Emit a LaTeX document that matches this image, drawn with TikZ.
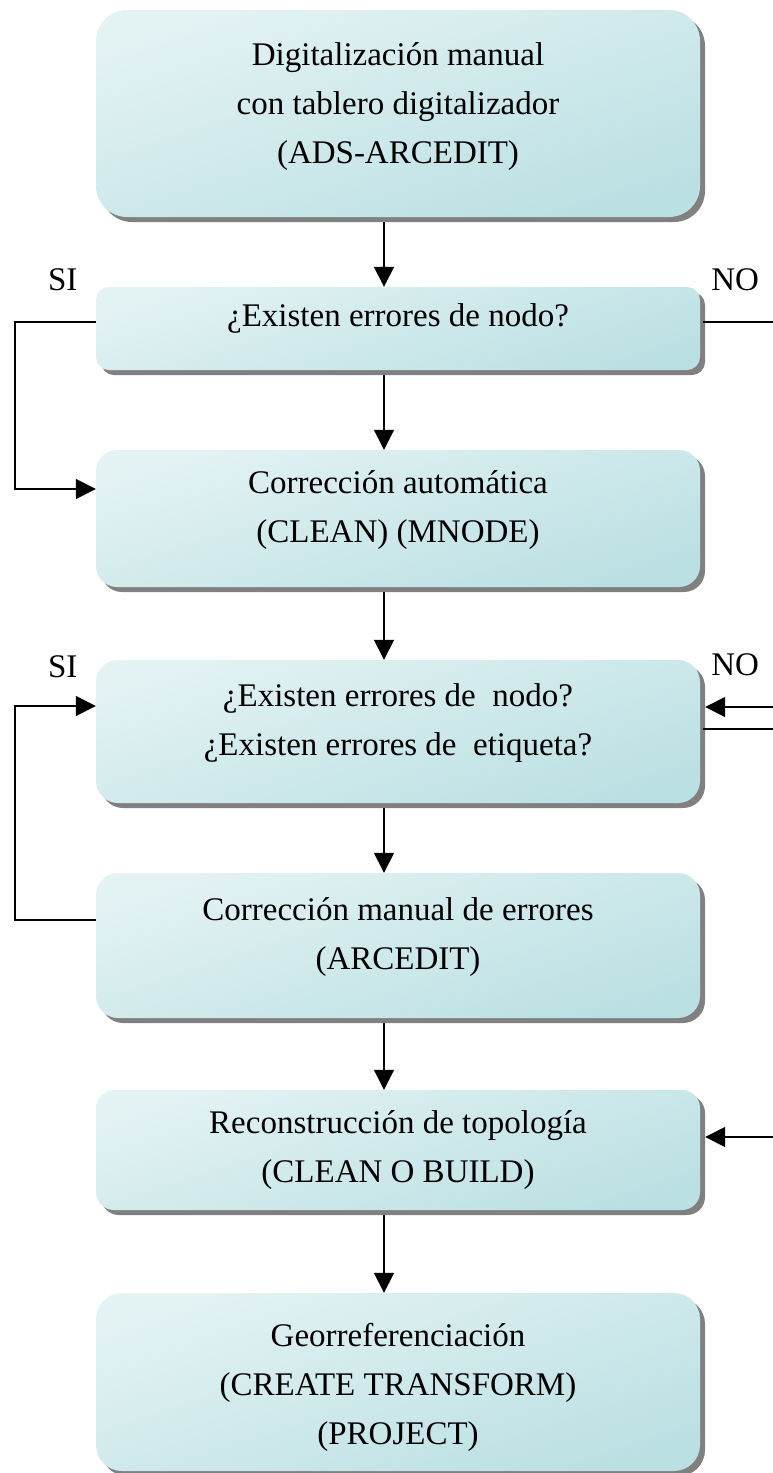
\documentclass[tikz,border=0pt]{standalone}
\usepackage{fontspec}
\setmainfont{Liberation Serif}
\usetikzlibrary{calc,shadows,arrows.meta}

\definecolor{boxlight}{RGB}{227,242,243}
\definecolor{boxdark}{RGB}{187,224,227}
\definecolor{shadowgray}{RGB}{128,128,128}

\tikzset{
  stepbox/.style={rectangle, minimum width=604pt, inner sep=0pt,
    top color=boxlight, bottom color=boxdark, shading angle=18,
    drop shadow={shadow xshift=5pt, shadow yshift=-5pt, fill=shadowgray, opacity=1}},
  boxtext/.style={align=center, font=\fontsize{33}{49}\selectfont},
  answer/.style={font=\fontsize{33}{40}\selectfont},
  flow/.style={-{Triangle[length=20pt,width=20pt]}, line width=1.5pt},
  link/.style={line width=1.5pt}
}

\begin{document}
\begin{tikzpicture}[x=1pt,y=1pt]
\useasboundingbox (0,0) rectangle (773,-1473);
\coordinate (axis) at (384,0);
\coordinate (rightedge) at (773,0);

% boxes
\draw node [stepbox, minimum height=207pt, rounded corners=31pt] (digit) at (398,-113.5) {};
\draw node [boxtext] at ($ (digit) + (0,7) $) {Digitalización manual\\con tablero digitalizador\\(ADS-ARCEDIT)};

\draw node [stepbox, minimum height=83pt, rounded corners=13pt] (nodeq) at (398,-328.5) {};
\draw node [boxtext] at ($ (nodeq) + (0,10) $) {¿Existen errores de nodo?};

\draw node [stepbox, minimum height=137pt, rounded corners=21pt] (autofix) at (398,-518.5) {};
\draw node [boxtext] at ($ (autofix) + (0,8) $) {Corrección automática\\(CLEAN) (MNODE)};

\draw node [stepbox, minimum height=143pt, rounded corners=22pt] (errq) at (398,-731.5) {};
\draw node [boxtext] at ($ (errq) + (0,8) $) {¿Existen errores de \ nodo?\\¿Existen errores de \ etiqueta?};

\draw node [stepbox, minimum height=145pt, rounded corners=22pt] (manfix) at (398,-945.5) {};
\draw node [boxtext] at ($ (manfix) + (0,8) $) {Corrección manual de errores\\(ARCEDIT)};

\draw node [stepbox, minimum height=120pt, rounded corners=18pt] (rebuild) at (398,-1150) {};
\draw node [boxtext] at ($ (rebuild) + (0,0) $) {Reconstrucción de topología\\(CLEAN O BUILD)};

\draw node [stepbox, minimum height=178pt, rounded corners=26pt] (georef) at (398,-1382) {};
\draw node [boxtext] at ($ (georef) + (0,-5) $) {Georreferenciación\\(CREATE TRANSFORM)\\(PROJECT)};

% main flow
\draw[flow, shorten <=5pt] (digit.south -| axis) -- (nodeq.north -| axis);
\draw[flow, shorten <=5pt] (nodeq.south -| axis) -- (autofix.north -| axis);
\draw[flow, shorten <=5pt] (autofix.south -| axis) -- (errq.north -| axis);
\draw[flow, shorten <=5pt] (errq.south -| axis) -- (manfix.north -| axis);
\draw[flow, shorten <=5pt] (manfix.south -| axis) -- (rebuild.north -| axis);
\draw[flow, shorten <=5pt] (rebuild.south -| axis) -- (georef.north -| axis);

% SI branches
\draw[flow] ($ (nodeq.west) + (0,6.5) $) -- ($ (nodeq.west) + (-81,6.5) $) |- ($ (autofix.west) + (0,29.5) $);
\draw node [answer] at ($ (nodeq.west) + (-33,48.5) $) {SI};

\draw[flow] ($ (manfix.west) + (0,25.5) $) -- ($ (manfix.west) + (-81,25.5) $) |- ($ (errq.west) + (0,25.5) $);
\draw node [answer] at ($ (errq.west) + (-33,64.5) $) {SI};

% NO branches
\coordinate (noout1) at ($ (nodeq.east) + (0,6.5) $);
\draw[link, shorten <=3pt] (noout1) -- (noout1 -| rightedge);
\draw node [answer] at ($ (nodeq.east) + (35,48.5) $) {NO};

\coordinate (noin1) at ($ (errq.east) + (0,24.5) $);
\draw[flow, shorten >=5pt] (noin1 -| rightedge) -- (noin1);
\coordinate (noout2) at ($ (errq.east) + (0,2.5) $);
\draw[link, shorten <=3pt] (noout2) -- (noout2 -| rightedge);
\draw node [answer] at ($ (errq.east) + (35,66.5) $) {NO};

\coordinate (noin2) at ($ (rebuild.east) + (0,13) $);
\draw[flow, shorten >=5pt] (noin2 -| rightedge) -- (noin2);

\end{tikzpicture}
\end{document}
